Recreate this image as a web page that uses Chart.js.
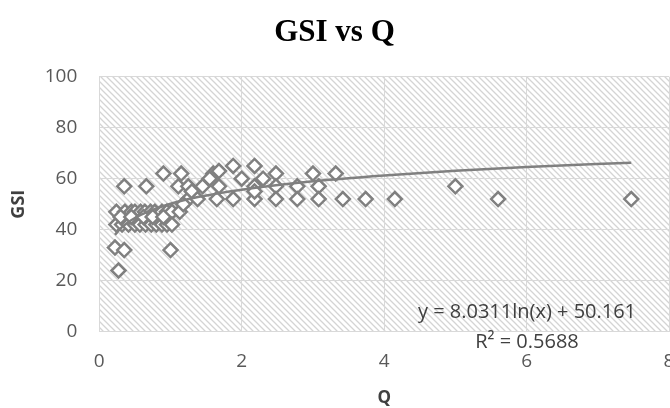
<!DOCTYPE html>
<html>
<head>
<meta charset="utf-8">
<script src="https://cdn.jsdelivr.net/npm/chart.js@4"></script>
<style>
  html, body { margin: 0; padding: 0; background: #fff; }
  #wrap { width: 670px; height: 408px; position: relative; }
</style>
</head>
<body>
<div id="wrap"><canvas id="chart"></canvas></div>
<script>
// Q / GSI pairs
const qValues = [
  0.22, 0.35, 0.27, 1.00, 0.35, 0.66, 0.90, 1.15, 1.11, 1.25,
  1.45, 1.60, 1.68, 1.88, 1.68, 1.25, 1.65, 1.88, 2.18, 2.18,
  2.18, 2.18, 2.48, 2.48, 2.48, 2.78, 2.78, 3.00, 3.08, 3.08,
  3.32, 3.42, 3.74, 4.15, 5.00, 5.60, 7.47,
  0.24, 0.36, 0.45, 0.50, 0.58, 0.64, 0.72, 0.78, 0.88, 0.95, 1.02, 1.13,
  0.24, 0.32, 0.41, 0.50, 0.57, 0.65, 0.73, 0.80, 0.88, 0.95, 1.02,
  0.30, 0.45, 0.62, 0.75, 0.90,
  1.18, 1.30, 1.38, 1.55, 2.00, 2.30
];
const gsiValues = [
  33, 32, 24, 32, 57, 57, 62, 62, 57, 57,
  57, 62, 63, 65, 57, 52, 52, 52, 65, 57,
  52, 55, 62, 57, 52, 57, 52, 62, 57, 52,
  62, 52, 52, 52, 57, 52, 52,
  47, 47, 47, 47, 47, 47, 47, 47, 47, 47, 47, 47,
  42, 42, 42, 42, 42, 42, 42, 42, 42, 42, 42,
  45, 45, 45, 45, 45,
  50, 55, 52, 60, 60, 60
];

// log trendline as drawn in the picture
const trendQ = [0.22, 0.3, 0.4, 0.5, 0.7, 1.0, 1.4, 2.0, 3.0, 4.0, 5.0, 6.0, 7.47];
const trendGsi = [38.0, 40.5, 42.8, 44.6, 47.3, 50.2, 52.9, 55.7, 59.0, 61.3, 63.1, 64.6, 66.3];

const chartTitle = "GSI vs Q";
const xTitle = "Q";
const yTitle = "GSI";
const eqLines = ["y = 8.0311ln(x) + 50.161", "R\u00B2 = 0.5688"];

const points = qValues.map((q, i) => ({ x: q, y: gsiValues[i] }));
const trend = trendQ.map((q, i) => ({ x: q, y: trendGsi[i] }));

// diagonal hatch for the plot area
function makeHatch() {
  const s = 6;
  const c = document.createElement("canvas");
  c.width = s; c.height = s;
  const p = c.getContext("2d");
  p.fillStyle = "#ffffff";
  p.fillRect(0, 0, s, s);
  p.strokeStyle = "#d4d4d4";
  p.lineWidth = 1.3;
  p.beginPath();
  p.moveTo(0, 0); p.lineTo(s, s);
  p.moveTo(-1, s - 1); p.lineTo(1, s + 1);
  p.moveTo(s - 1, -1); p.lineTo(s + 1, 1);
  p.stroke();
  return c;
}

const hatchPlugin = {
  id: "hatch",
  beforeDraw(chart) {
    const { ctx, chartArea: a } = chart;
    ctx.save();
    ctx.fillStyle = ctx.createPattern(makeHatch(), "repeat");
    ctx.fillRect(a.left, a.top, a.right - a.left, a.bottom - a.top);
    ctx.restore();
  }
};

const eqPlugin = {
  id: "equation",
  afterDraw(chart) {
    const ctx = chart.ctx;
    ctx.save();
    ctx.font = "20px 'Open Sans'";
    ctx.fillStyle = "#404040";
    ctx.textAlign = "center";
    ctx.textBaseline = "middle";
    ctx.fillText(eqLines[0], 527, 312);
    ctx.fillText(eqLines[1], 527, 342);
    ctx.restore();
  }
};

const gridColor = "#d9d9d9";
const tickFont = { family: "'Open Sans'", size: 19 };

new Chart(document.getElementById("chart"), {
  type: "scatter",
  data: {
    datasets: [
      {
        type: "line",
        data: trend,
        borderColor: "#808080",
        borderWidth: 2.5,
        pointRadius: 0,
        fill: false,
        cubicInterpolationMode: "monotone"
      },
      {
        data: points,
        pointStyle: "rectRot",
        pointRadius: 7,
        pointBorderWidth: 2.5,
        borderColor: "#808080",
        backgroundColor: "#ffffff"
      }
    ]
  },
  options: {
    responsive: true,
    maintainAspectRatio: false,
    animation: false,
    layout: { autoPadding: false, padding: { left: 0, right: 1, top: 0, bottom: 0 } },
    plugins: {
      legend: { display: false },
      tooltip: { enabled: false },
      title: {
        display: true,
        text: chartTitle,
        color: "#000000",
        font: { family: "'Liberation Serif'", size: 31, weight: "bold" },
        padding: { top: 14.4, bottom: 25.1 }
      }
    },
    scales: {
      x: {
        type: "linear",
        min: 0, max: 8,
        ticks: { stepSize: 2, color: "#595959", font: tickFont, padding: 18, maxRotation: 0 },
        grid: { color: gridColor, drawTicks: false },
        border: { color: gridColor },
        title: {
          display: true, text: xTitle, color: "#404040",
          font: { family: "'Open Sans'", size: 17, weight: "bold" },
          padding: { top: 0, bottom: 0 }
        },
        afterFit(s) { s.height = 76.3; s.paddingLeft = 0; s.paddingRight = 0; }
      },
      y: {
        min: 0, max: 100,
        ticks: { stepSize: 20, color: "#595959", font: tickFont, padding: 22 },
        grid: { color: gridColor, drawTicks: false },
        border: { color: gridColor },
        title: {
          display: true, text: yTitle, color: "#404040",
          font: { family: "'Open Sans'", size: 18, weight: "bold" },
          padding: { top: 8, bottom: 0 }
        },
        afterFit(s) { s.width = 99.3; }
      }
    }
  },
  plugins: [hatchPlugin, eqPlugin]
});
</script>
</body>
</html>
